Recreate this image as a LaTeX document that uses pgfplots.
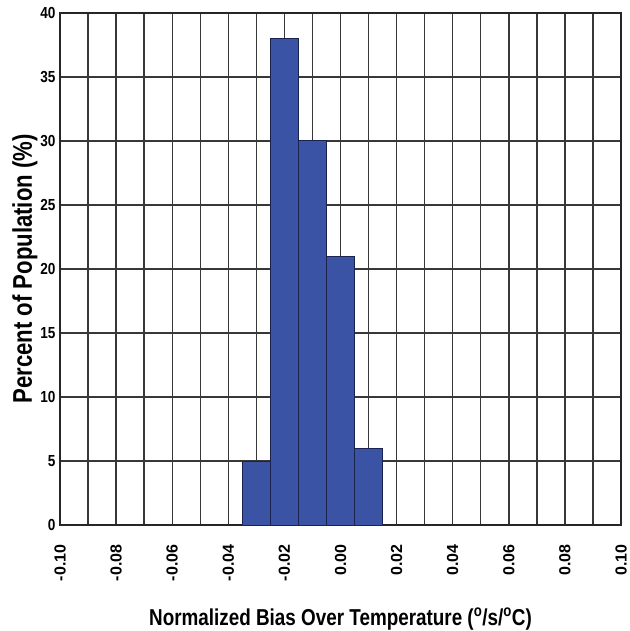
\documentclass[border=0pt]{standalone}
\usepackage{pgfplots}
\pgfplotsset{compat=1.18}
\usepackage{fontspec}
\setmainfont{Liberation Sans}
\newfontfamily\cond{Liberation Sans}[FakeStretch=0.85]
\newfontfamily\condb{Liberation Sans}[FakeStretch=0.82]
\definecolor{barblue}{HTML}{3A53A4}
\definecolor{baredge}{HTML}{1C2250}
\begin{document}
\begin{tikzpicture}
\begin{axis}[
  scale only axis, width=561pt, height=512pt,
  xmin=-0.1, xmax=0.1, ymin=0, ymax=40,
  xtick={-0.1,-0.08,-0.06,-0.04,-0.02,0,0.02,0.04,0.06,0.08,0.1},
  minor xtick={-0.09,-0.07,-0.05,-0.03,-0.01,0.01,0.03,0.05,0.07,0.09},
  ytick={0,5,10,15,20,25,30,35,40},
  grid=both,
  major grid style={black!78, line width=1.4pt},
  minor grid style={black!78, line width=1.4pt},
  major tick length=0pt, minor tick length=0pt,
  axis line style={black!85, line width=1.6pt},
  /pgf/number format/assume math mode=true,
  xticklabel style={rotate=90, anchor=east, font=\bfseries\fontsize{16}{16}\selectfont,
    /pgf/number format/.cd, fixed, fixed zerofill, precision=2},
  yticklabel style={font=\cond\bfseries\fontsize{16}{16}\selectfont},
  xticklabel shift=16pt,
  yticklabel shift=1pt,
  xlabel={Normalized Bias Over Temperature (\textsuperscript{o}/s/\textsuperscript{o}C)},
  ylabel={Percent of Population (\%)},
  xlabel style={font=\condb\bfseries\fontsize{23}{23}\selectfont},
  ylabel style={font=\condb\bfseries\fontsize{27}{27}\selectfont},
  xlabel shift=20pt,
  ylabel shift=-4pt,
]
\addplot[ybar, bar width=0.01, bar shift=0pt, fill=barblue, draw=baredge, line width=1pt]
  coordinates {(-0.03,5) (-0.02,38) (-0.01,30) (0.00,21) (0.01,6)};
\end{axis}
\pgfresetboundingbox
\path ([xshift=-60pt,yshift=-106pt]current axis.south west) rectangle ([xshift=9pt,yshift=13pt]current axis.north east);
\end{tikzpicture}
\end{document}
